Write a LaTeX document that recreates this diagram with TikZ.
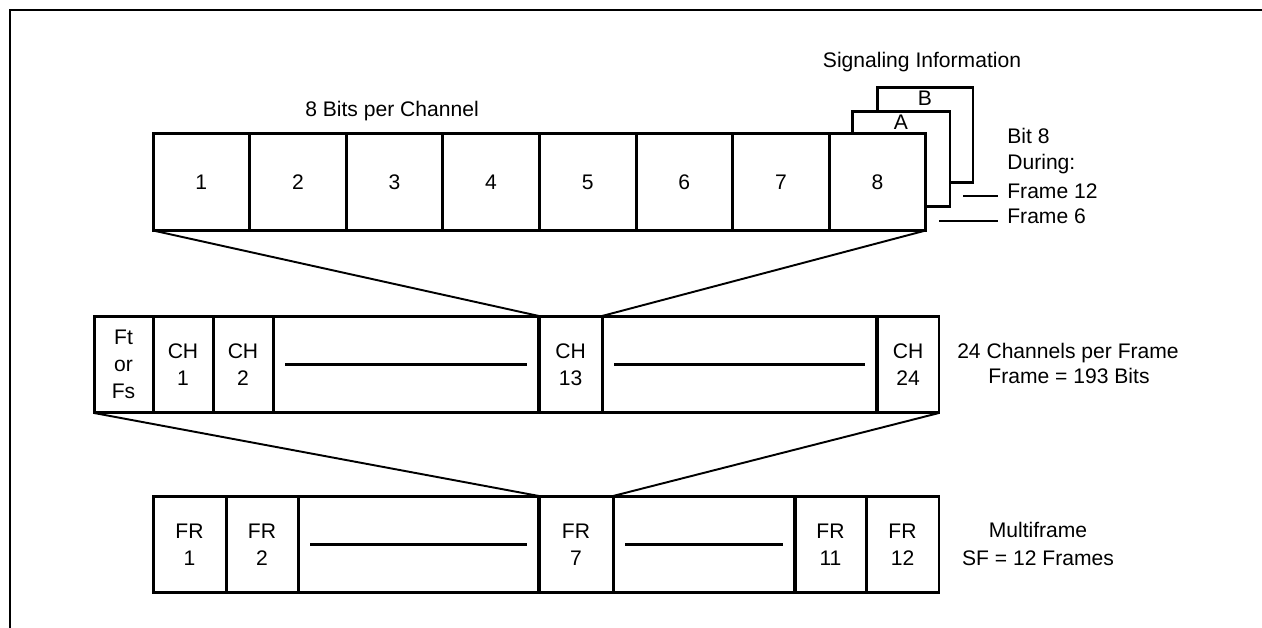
\documentclass[tikz,border=0pt]{standalone}
\usepackage{fontspec}
\setmainfont{Liberation Sans}
\usetikzlibrary{positioning}
\begin{document}
\begin{tikzpicture}[
    x=0.02cm, y=-0.02cm,
    every node/.style={font=\fontsize{12}{15.5}\selectfont},
    cell/.style={
        draw,
        rectangle,
        fill=white,
        line width=1.7pt,
        inner sep=0pt,
        outer sep=0pt,
        align=center,
        minimum height=1.94cm
    },
    caption/.style={inner sep=0pt, align=center},
    slant/.style={line width=1.1pt},
    gapline/.style={line width=1.7pt, shorten <=0.24cm, shorten >=0.24cm},
    leader/.style={line width=1.7pt}
]

\useasboundingbox (0,0) rectangle (1262,628);
\draw[line width=1.1pt] (1262,10) -- (10,10) -- (10,628);

\node[caption, anchor=base] (bitstitle) at (392,117) {8 Bits per Channel};
\node[caption, anchor=base] (sigtitle) at (922,68) {Signaling Information};

\node[cell, minimum width=1.92cm, minimum height=1.92cm] (sigB) at (925,135) {};
\node[cell, minimum width=1.96cm, minimum height=1.92cm] (sigA) at (901,159) {};
\node[caption, below=0.08cm of sigB.north] (labB) {B};
\node[caption, below=0.08cm of sigA.north] (labA) {A};

\node[cell, minimum width=1.932cm] (b1) at (201.3,182) {1};
\node[cell, minimum width=1.932cm] (b2) at (297.9,182) {2};
\node[cell, minimum width=1.932cm] (b3) at (394.5,182) {3};
\node[cell, minimum width=1.932cm] (b4) at (491.1,182) {4};
\node[cell, minimum width=1.932cm] (b5) at (587.7,182) {5};
\node[cell, minimum width=1.932cm] (b6) at (684.3,182) {6};
\node[cell, minimum width=1.932cm] (b7) at (780.9,182) {7};
\node[cell, minimum width=1.932cm] (b8) at (877.5,182) {8};

\node[caption, anchor=base west] (bit8) at (1007,144) {Bit 8};
\node[caption, anchor=base west] (during) at (1007,170) {During:};
\node[caption, anchor=base west, inner xsep=0.18cm] (frame12) at (998,199) {Frame 12};
\node[caption, anchor=base west, inner xsep=0.18cm] (frame6) at (998,224) {Frame 6};
\coordinate (f12tail) at (963,196);
\coordinate (f6tail) at (939,221);
\draw[leader] (f12tail) -- (f12tail -| frame12.west);
\draw[leader] (f6tail) -- (f6tail -| frame6.west);

\node[cell, minimum width=1.18cm] (ftfs) at (123.5,364.5) {Ft\\or\\Fs};
\node[cell, minimum width=1.2cm] (ch1) at (183,364.5) {CH\\1};
\node[cell, minimum width=1.2cm] (ch2) at (243,364.5) {CH\\2};
\node[cell, minimum width=5.32cm] (chgapA) at (406,364.5) {};
\node[cell, minimum width=1.26cm] (ch13) at (570.5,364.5) {CH\\13};
\node[cell, minimum width=5.5cm] (chgapB) at (739.5,364.5) {};
\node[cell, minimum width=1.24cm] (ch24) at (908,364.5) {CH\\24};

\node[caption, anchor=base] (chcount) at (1068,358) {24 Channels per Frame};
\node[caption, anchor=base] (framebits) at (1069,384) {Frame = 193 Bits};

\node[cell, minimum width=1.46cm] (fr1) at (189.5,544.5) {FR\\1};
\node[cell, minimum width=1.44cm] (fr2) at (262,544.5) {FR\\2};
\node[cell, minimum width=4.82cm] (frgapA) at (418.5,544.5) {};
\node[cell, minimum width=1.48cm] (fr7) at (576,544.5) {FR\\7};
\node[cell, minimum width=3.64cm] (frgapB) at (704,544.5) {};
\node[cell, minimum width=1.42cm] (fr11) at (830.5,544.5) {FR\\11};
\node[cell, minimum width=1.46cm] (fr12) at (902.5,544.5) {FR\\12};

\node[caption, anchor=base] (multi) at (1038,537) {Multiframe};
\node[caption, anchor=base] (sfcount) at (1038,565) {SF = 12 Frames};

\draw[gapline] (chgapA.west) -- (chgapA.east);
\draw[gapline] (chgapB.west) -- (chgapB.east);
\draw[gapline] (frgapA.west) -- (frgapA.east);
\draw[gapline] (frgapB.west) -- (frgapB.east);

\draw[slant] (b1.south west) -- (ch13.north west);
\draw[slant] (b8.south east) -- (ch13.north east);
\draw[slant] (ftfs.south west) -- (fr7.north west);
\draw[slant] (ch24.south east) -- (fr7.north east);

\end{tikzpicture}
\end{document}
